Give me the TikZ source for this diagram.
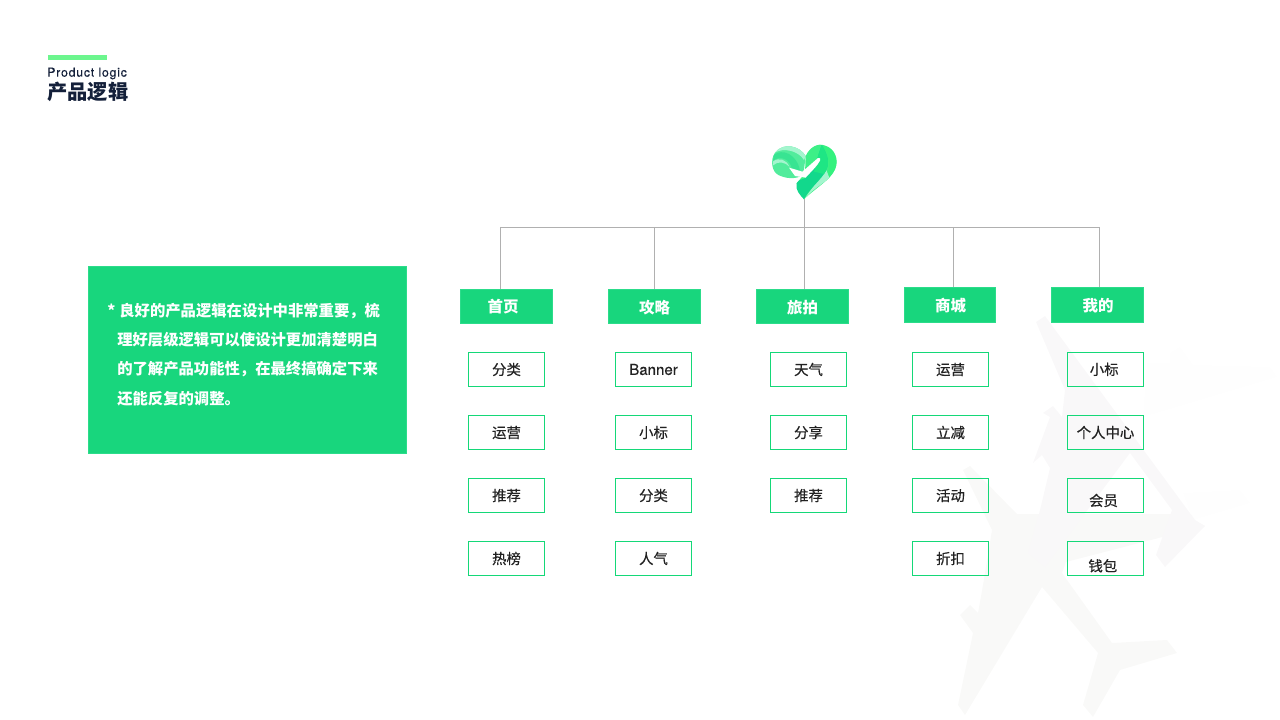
\documentclass[tikz,border=0pt]{standalone}
\usepackage{fontspec}
\setmainfont{TeX Gyre Heros}
\newfontfamily\cjk{Noto Sans CJK SC}
\newfontfamily\cjkmed[FakeBold=0.5]{Noto Sans CJK SC}
\newfontfamily\latinmed[FakeBold=0.4]{TeX Gyre Heros}
\newfontfamily\titlefont[LetterSpace=6.5,FakeBold=0.3]{TeX Gyre Heros}
\definecolor{brandgreen}{HTML}{18D67D}
\definecolor{brandedge}{HTML}{2CDC8B}
\definecolor{itemedge}{HTML}{14D878}
\definecolor{barcolor}{HTML}{6CF68E}
\definecolor{inkdark}{HTML}{14203A}
\definecolor{inktext}{HTML}{222222}
\definecolor{busgray}{HTML}{B0B0B0}
\definecolor{ghosta}{HTML}{F9F8F9}
\definecolor{ghostb}{HTML}{F9F9F8}
\definecolor{ghostc}{HTML}{FEFEFE}
\definecolor{logopale}{HTML}{A4F5CE}
\definecolor{logomint}{HTML}{52EC9C}
\definecolor{logoband}{HTML}{38E492}
\definecolor{logolime}{HTML}{34F27E}
\definecolor{logoteal}{HTML}{12D88C}
\definecolor{logoleaf}{HTML}{1EE684}
% moves a label inside its box, values in px of the 1280 wide page
\newcommand{\nudge}[3]{\smash{\raisebox{\dimexpr#2pt-0.37em\relax}{\makebox[0pt]{\hspace*{#1pt}#3}}}}
\tikzset{
    headbox/.style={draw=brandedge, fill=brandgreen, line width=0.8pt, minimum width=68.5pt, minimum height=26pt,
        inner sep=0pt, text=white, font=\fontsize{11.6}{14}\selectfont\cjk\bfseries},
    itembox/.style={draw=itemedge, line width=1.35pt, minimum width=57pt, minimum height=25.5pt,
        inner sep=0pt, text=inktext, font=\fontsize{10.8}{14}\selectfont\cjkmed},
    busline/.style={draw=busgray, line width=0.7pt},
}

\begin{document}
\begin{tikzpicture}[x=0.75pt, y=-0.75pt]
        \useasboundingbox (0,0) rectangle (1280,720);

        % watermark planes
        \fill[ghostc] (1147,363) -- (1170,363) -- (1170,353) -- (1180,347) -- (1193,365) -- (1270,367) -- (1277,377) -- (1143,417) -- cycle;
        \fill[ghostc] (1183,493) -- (1240,490) -- (1250,503) -- (1193,520) -- cycle;
        \fill[ghostb] (963,470) -- (970,466) -- (1017,514) -- (1175,514) -- (1205,526) -- (1066,562) -- (1062,573)
            -- (1112,643) -- (1167,640) -- (1177,653) -- (1120,670) -- (1093,717) -- (1083,705) -- (1098,653)
            -- (1042,587) -- (965,715) -- (958,705) -- (973,633) -- (960,615) -- (970,605) -- (978,613) -- (983,585)
            -- (992,530) -- cycle;
        \fill[ghosta] (1036,322) -- (1045,316) -- (1195,520) -- (1205,526) -- (1165,567) -- (1156,555) -- (1172,510)
            -- (1130,453) -- (1045,567) -- (1028,553) -- (1040,510) -- (1050,468) -- (1042,455) -- (1033,463)
            -- (1050,417) -- (1043,413) -- (1053,406) -- (1062,417) -- (1065,390) -- cycle;

        % heart logo
        \begin{scope}[shift={(740,130)}, scale=0.3333]
            \fill[logomint] (197,78) .. controls (180,48) and (130,35) .. (105,68)
                .. controls (90,90) and (95,125) .. (115,135) .. controls (135,145) and (165,150) .. (190,135) -- cycle;
            \fill[logopale] (105,68) .. controls (130,35) and (180,48) .. (197,78) -- (192,90) .. controls (175,62) and (130,52) .. (105,68) -- cycle;
            \fill[logoband] (102,75) .. controls (125,55) and (170,70) .. (180,122) -- (155,114) .. controls (150,88) and (120,75) .. (99,92) -- cycle;
            \fill[logopale] (98,95) .. controls (118,80) and (140,90) .. (148,110) .. controls (135,96) and (115,92) .. (99,106) -- cycle;
            \fill[logolime!70!logomint] (197,78) .. controls (210,50) and (235,38) .. (255,47)
                .. controls (285,55) and (298,90) .. (285,118) .. controls (272,150) and (225,175) .. (192,208) -- (170,160) -- (195,130) -- cycle;
            \fill[logolime] (245,45) .. controls (280,50) and (298,85) .. (285,118) .. controls (278,130) and (270,140) .. (262,148)
                .. controls (270,110) and (268,70) .. (245,45) -- cycle;
            \fill[logopale] (258,118) -- (268,143) .. controls (245,165) and (215,180) .. (192,208) -- cycle;
            \fill[logoteal] (245,45) .. controls (265,75) and (272,105) .. (252,132) .. controls (232,160) and (205,180) .. (192,208)
                .. controls (180,195) and (165,180) .. (170,160) .. controls (175,148) and (190,148) .. (198,143) -- (232,85) -- cycle;
            \fill[logoleaf] (245,45) .. controls (265,75) and (272,105) .. (252,132) -- (222,125) -- (232,85) -- cycle;
            \fill[white] (147,113) -- (187,125) -- (234,84) .. controls (240,82) and (243,86) .. (240,92) .. controls (232,108) and (212,126) .. (197,143)
                -- (165,138) -- cycle;
        \end{scope}

        % title
        \fill[barcolor] (48,55) rectangle (107,60);
        \node[anchor=west, inner sep=0pt, text=inkdark, font=\fontsize{9.2}{10}\selectfont\titlefont] (titleen) at (47,73.5) {Product logic};
        \node[anchor=west, inner sep=0pt, text=inkdark, font=\fontsize{15.2}{18}\selectfont\cjk\bfseries] (titlecn) at (47,92) {产品逻辑};

        % text panel
        \node[anchor=north west, draw=brandedge, fill=brandgreen, line width=0.6pt, inner sep=0pt, minimum width=239pt, minimum height=140.5pt] (panel) at (87.8,266) {};
        \node[anchor=west, align=left, inner sep=0pt, text=white, font=\fontsize{11.5}{22}\selectfont\cjk\bfseries] (paneltext) at (107,354.5)
            {*\hspace*{3pt}良好的产品逻辑在设计中非常重要，梳\\
            \hspace*{7.5pt}理好层级逻辑可以使设计更加清楚明白\\
            \hspace*{7.5pt}的了解产品功能性，在最终搞确定下来\\
            \hspace*{7.5pt}还能反复的调整。};

        % first level
        \node[headbox] (home) at (506.5,306.5) {\nudge{-5}{0}{首页}};
        \node[headbox] (guide) at (654.5,306.5) {\nudge{0}{-1.1}{攻略}};
        \node[headbox] (trip) at (802.5,306.5) {\nudge{0}{-1.1}{旅拍}};
        \node[headbox] (mall) at (950,305) {\nudge{1}{-0.7}{商城}};
        \node[headbox] (mine) at (1097.5,305) {\nudge{1}{-0.7}{我的}};

        % connectors
        \coordinate (logotip) at (804.5,199);
        \coordinate (busa) at (500,227);
        \coordinate (busb) at (654.5,227);
        \coordinate (busd) at (953,227);
        \coordinate (buse) at (1099,227);
        \draw[busline] (busa) -- (buse);
        \draw[busline] (busa) -- (busa |- home.north);
        \draw[busline] (busb) -- (busb |- guide.north);
        \draw[busline] (logotip) -- (logotip |- trip.north);
        \draw[busline] (busd) -- (busd |- mall.north);
        \draw[busline] (buse) -- (buse |- mine.north);

        % second level
        \node[itembox] (homea) at (506.5,369.5) {分类};
        \node[itembox] (homeb) at (506.5,432.5) {运营};
        \node[itembox] (homec) at (506.5,495.5) {推荐};
        \node[itembox] (homed) at (506.5,558.5) {热榜};

        \node[itembox] (guidea) at (653.5,369.5) {\fontsize{11.3}{14}\selectfont\latinmed Banner};
        \node[itembox] (guideb) at (653.5,432.5) {小标};
        \node[itembox] (guidec) at (653.5,495.5) {分类};
        \node[itembox] (guided) at (653.5,558.5) {人气};

        \node[itembox] (tripa) at (808.5,369.5) {天气};
        \node[itembox] (tripb) at (808.5,432.5) {分享};
        \node[itembox] (tripc) at (808.5,495.5) {推荐};

        \node[itembox] (malla) at (950.5,369.5) {运营};
        \node[itembox] (mallb) at (950.5,432.5) {立减};
        \node[itembox] (mallc) at (950.5,495.5) {活动};
        \node[itembox] (malld) at (950.5,558.5) {折扣};

        \node[itembox] (minea) at (1105.5,369.5) {\nudge{-2}{0}{小标}};
        \node[itembox] (mineb) at (1105.5,432.5) {个人中心};
        \node[itembox] (minec) at (1105.5,495.5) {\nudge{-3}{-3.8}{会员}};
        \node[itembox] (mined) at (1105.5,558.5) {\nudge{-4}{-5.6}{钱包}};
    \end{tikzpicture}
\end{document}
